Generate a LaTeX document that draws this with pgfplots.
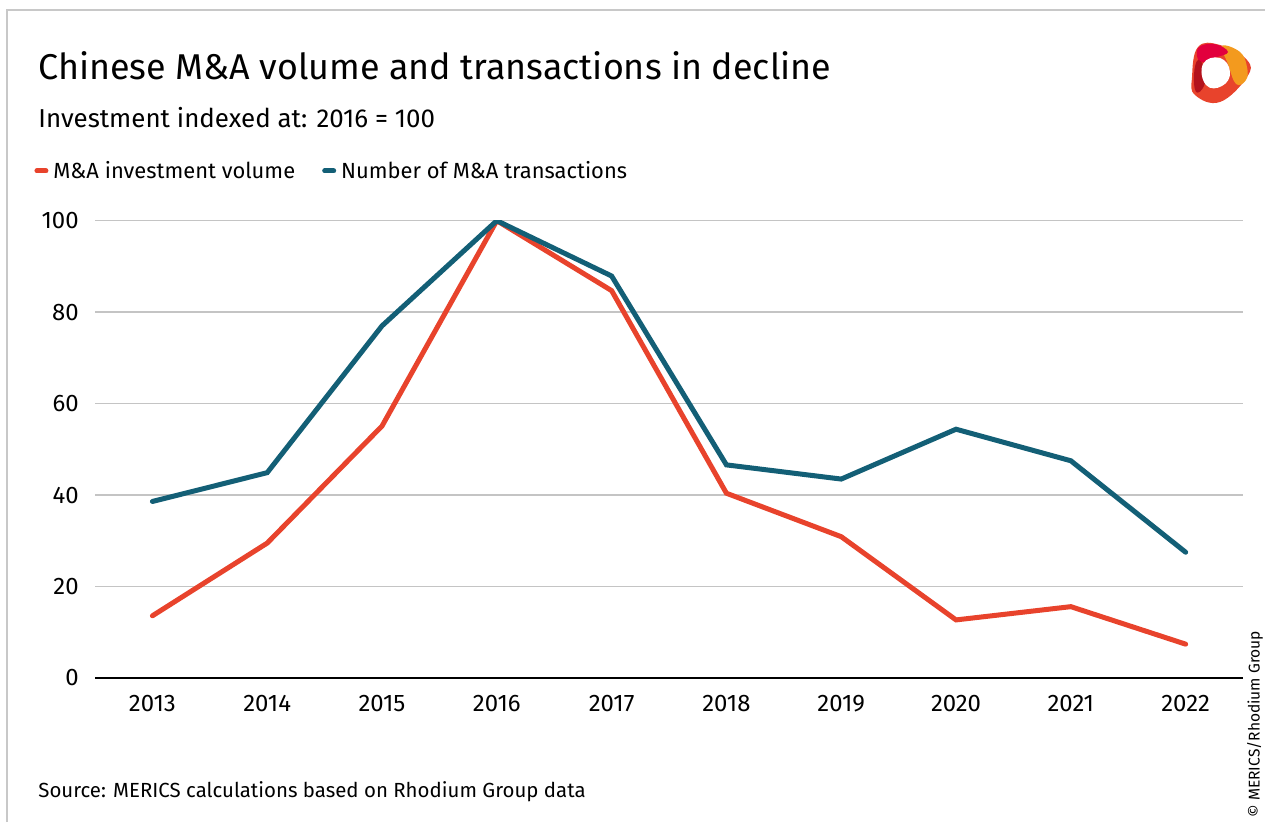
\documentclass[border=0pt]{standalone}
\usepackage{fontspec}
\setmainfont{Fira Sans}
\usepackage{pgfplots}
\pgfplotsset{compat=1.18}
\definecolor{mericsRed}{HTML}{E8432C}
\definecolor{mericsBlue}{HTML}{135F76}
\definecolor{gridGray}{HTML}{C4C4C4}
\definecolor{frameGray}{HTML}{C8C8C8}
\definecolor{logoOrange}{HTML}{F39A1E}
\definecolor{logoCrimson}{HTML}{E2003D}
\definecolor{logoDark}{HTML}{B3121C}

% index 2016 = 100; x = 0 .. 9 for 2013 .. 2022
\pgfplotstableread{
x volume deals
0 13.6 38.6
1 29.5 44.9
2 55.1 77.0
3 100  100
4 84.7 87.9
5 40.4 46.6
6 30.9 43.5
7 12.7 54.4
8 15.6 47.5
9 7.4  27.5
}\mnadata

\begin{document}
\begin{tikzpicture}[x=0.5bp,y=0.5bp]
\useasboundingbox (0,0) rectangle (1265,822);
\draw[frameGray, line width=1bp] (7,0) -- (7,812) -- (1265,812);

\node[anchor=base west, inner sep=0pt, font=\fontsize{18}{21}\selectfont] at (38,742)
  {Chinese M\&A volume and transactions in decline};
\node[anchor=base west, inner sep=0pt, font=\fontsize{13}{15}\selectfont] at (38,694)
  {Investment indexed at: 2016 = 100};
\node[anchor=base west, inner sep=0pt, font=\fontsize{10.25}{12}\selectfont] at (38,25)
  {Source: MERICS calculations based on Rhodium Group data};
\node[anchor=west, rotate=90, inner sep=0pt, font=\fontsize{7.8}{10}\selectfont] at (1255,4)
  {© MERICS/Rhodium Group};

% logo
\fill[mericsRed] plot[smooth cycle, tension=0.7] coordinates
  {(1198,775) (1220,777) (1247,762) (1247,745) (1220,720) (1195,727) (1192,745)};
\fill[logoOrange] plot[smooth cycle, tension=0.7] coordinates
  {(1222,776) (1240,770) (1247,755) (1246,742) (1236,738) (1228,758)};
\fill[logoCrimson] plot[smooth cycle, tension=0.7] coordinates
  {(1198,774) (1214,778) (1228,770) (1214,764) (1200,760)};
\fill[logoDark] plot[smooth cycle, tension=0.7] coordinates
  {(1194,748) (1198,762) (1205,752) (1204,736) (1196,730)};
\fill[white] plot[smooth cycle, tension=0.8] coordinates
  {(1203,758) (1220,764) (1230,750) (1222,736) (1206,737)};

\begin{axis}[
  at={(47.5bp,72bp)}, anchor=south west,
  scale only axis, width=574bp, height=228.65bp,
  xmin=-0.5, xmax=9.5, ymin=0, ymax=100,
  xtick={0,...,9},
  xticklabels={2013,2014,2015,2016,2017,2018,2019,2020,2021,2022},
  ytick={0,20,...,100},
  axis x line*=bottom, axis y line*=left,
  x axis line style={black, line width=1bp},
  y axis line style={draw=none},
  major tick length=0pt,
  ymajorgrids,
  major grid style={gridGray, line width=0.75bp},
  /pgf/number format/assume math mode=true,
  ticklabel style={font=\fontsize{12}{14}\selectfont, inner sep=0pt},
  yticklabel style={xshift=-8bp},
  xticklabel style={yshift=-8.5bp},
  legend columns=2,
  legend cell align=left,
  legend style={at={(-0.0531,1.1087)}, anchor=west, draw=none, fill=none,
    font=\fontsize{11}{13}\selectfont, inner sep=0pt,
    nodes={inner sep=2.5bp},
    /tikz/every even column/.append style={column sep=11bp}},
  legend image code/.code={\draw[#1, line width=2.5bp, line cap=round] (1.25bp,0bp) -- (5.75bp,0bp);},
]
\addplot[mericsRed, line width=2.5bp, line cap=round] table[x=x, y=volume] {\mnadata};
\addlegendentry{M\&A investment volume}
\addplot[mericsBlue, line width=2.5bp, line cap=round] table[x=x, y=deals] {\mnadata};
\addlegendentry{Number of M\&A transactions}
\end{axis}
\end{tikzpicture}
\end{document}
